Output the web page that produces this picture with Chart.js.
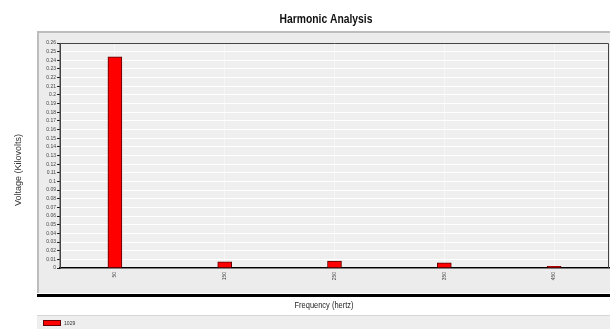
<!DOCTYPE html>
<html>
<head>
<meta charset="utf-8">
<script src="https://cdn.jsdelivr.net/npm/chart.js@4"></script>
<style>
  body { margin: 0; background: #fff; }
  canvas { display: block; }
</style>
</head>
<body>
<canvas id="harmonicChart" width="610" height="329"></canvas>
<script>
// Chart data
const categories = ["50", "150", "250", "350", "450"];
const voltage1029 = [0.244, 0.007, 0.008, 0.006, 0.002];
const seriesName = "1029";
const yMax = 0.26;
const yStep = 0.01;

const titleText = "Harmonic Analysis";
const xTitle = "Frequency (hertz)";
const yTitle = "Voltage (Kilovolts)";

const sans = "'Liberation Sans', Arial, sans-serif";

// draw text squeezed horizontally (the original uses a narrow face)
function narrowText(c, text, x, y, squeeze) {
  c.save();
  c.translate(x, y);
  c.scale(squeeze, 1);
  c.fillText(text, 0, 0);
  c.restore();
}

// Panels, plot background, title and legend
const framePlugin = {
  id: "frame",
  beforeDraw(chart) {
    const c = chart.ctx;
    const a = chart.chartArea;
    c.save();
    // chart panel
    c.fillStyle = "#ececec";
    c.fillRect(37, 31, 573, 262);
    c.fillStyle = "#bdbdbd";
    c.fillRect(37, 31, 573, 2);
    c.fillRect(37, 31, 2, 262);
    // thick line under the panel
    c.fillStyle = "#000";
    c.fillRect(37, 294, 573, 3);
    // legend panel
    c.fillStyle = "#d6d6d6";
    c.fillRect(37, 315, 573, 1);
    c.fillStyle = "#eeeeee";
    c.fillRect(37, 316, 573, 13);
    // plot area
    c.fillStyle = "#efefef";
    c.fillRect(a.left, a.top, a.right - a.left, a.bottom - a.top);
    c.restore();
  },
  afterDraw(chart) {
    const c = chart.ctx;
    const a = chart.chartArea;
    c.save();
    // plot border
    c.strokeStyle = "#444";
    c.lineWidth = 1;
    c.beginPath();
    c.moveTo(a.left, a.bottom);
    c.lineTo(a.left, a.top + 0.5);
    c.lineTo(a.right - 0.5, a.top + 0.5);
    c.lineTo(a.right - 0.5, a.bottom);
    c.stroke();

    // title
    c.fillStyle = "#111";
    c.textAlign = "center";
    c.textBaseline = "middle";
    c.font = "bold 12px " + sans;
    narrowText(c, titleText, 326, 20, 0.86);

    // x axis title
    c.fillStyle = "#222";
    c.font = "9px " + sans;
    narrowText(c, xTitle, 324, 306, 0.83);

    // y axis title
    c.save();
    c.translate(19, 170);
    c.rotate(-Math.PI / 2);
    c.font = "9px " + sans;
    c.fillStyle = "#333";
    c.fillText(yTitle, 0, 0);
    c.restore();

    // legend
    c.fillStyle = "#ff0000";
    c.fillRect(43, 320, 17, 5);
    c.strokeStyle = "#600";
    c.strokeRect(43.5, 320.5, 17, 5);
    c.fillStyle = "#333";
    c.textAlign = "left";
    c.font = "6px " + sans;
    narrowText(c, seriesName, 64, 323, 0.85);
    c.restore();
  }
};

const ctx = document.getElementById("harmonicChart");
new Chart(ctx, {
  type: "bar",
  data: {
    labels: categories,
    datasets: [{
      label: seriesName,
      data: voltage1029,
      backgroundColor: "#ff0000",
      borderColor: "#5a0000",
      borderWidth: 1,
      borderSkipped: "bottom",
      barThickness: 14
    }]
  },
  options: {
    responsive: false,
    animation: false,
    layout: { padding: { left: 37, right: 1, top: 43, bottom: 0 } },
    plugins: {
      legend: { display: false },
      title: { display: false },
      tooltip: { enabled: false }
    },
    scales: {
      x: {
        afterFit(scale) { scale.height = 61; },
        grid: { offset: false, color: "#f7f7f7", drawTicks: false },
        border: { color: "#000", width: 1.5 },
        ticks: {
          minRotation: 90,
          maxRotation: 90,
          padding: 4,
          color: "#444",
          font: { size: 5, family: sans }
        }
      },
      y: {
        min: 0,
        max: yMax,
        afterFit(scale) { scale.width = 23; },
        grid: { color: "#ffffff", tickColor: "#222", tickLength: 3 },
        border: { color: "#444" },
        ticks: {
          stepSize: yStep,
          autoSkip: false,
          padding: 1,
          color: "#444",
          font: { size: 5, family: sans },
          callback: v => String(Number(v.toFixed(2)))
        }
      }
    }
  },
  plugins: [framePlugin]
});
</script>
</body>
</html>
